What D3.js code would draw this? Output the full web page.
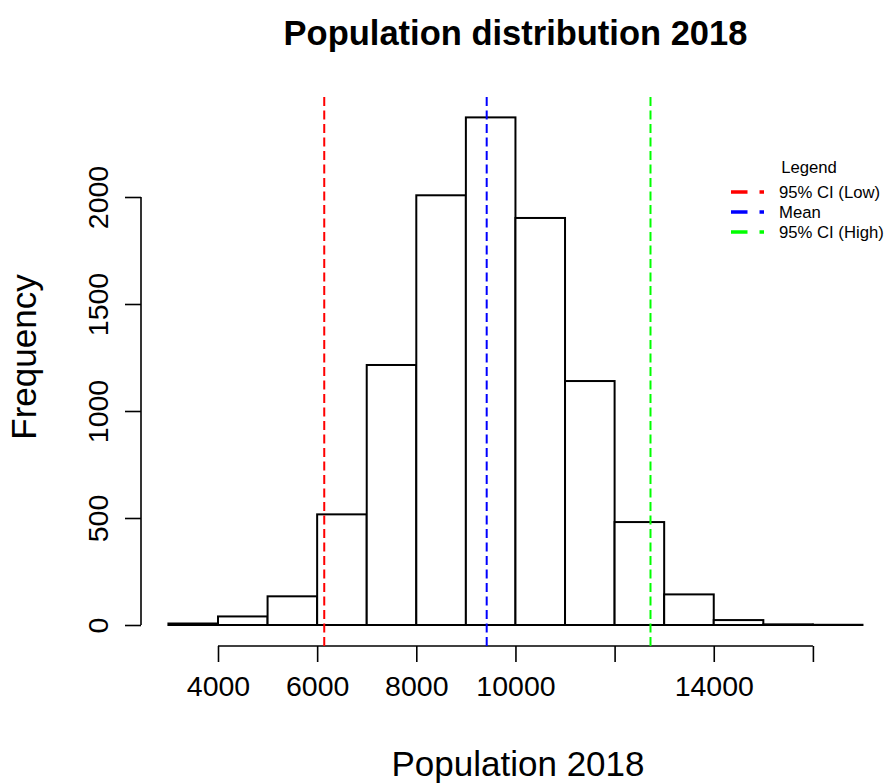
<!DOCTYPE html>
<html>
<head>
<meta charset="utf-8">
<script src="https://cdn.jsdelivr.net/npm/d3@7"></script>
<style>
  html, body { margin: 0; padding: 0; background: #fff; }
  svg { display: block; font-family: "Liberation Sans", Arial, sans-serif; }
</style>
</head>
<body>
<svg id="chart" width="886" height="783"></svg>
<script>
// ---- data ----
const binStarts = [3000, 4000, 5000, 6000, 7000, 8000, 9000, 10000, 11000, 12000, 13000, 14000, 15000, 16000];
const binWidth = 1000;
const counts = [7, 40, 134, 517, 1215, 2008, 2372, 1902, 1140, 481, 143, 23, 3, 1];
const xTicks = [4000, 6000, 8000, 10000, 12000, 14000, 16000];
const xTickLabels = ["4000", "6000", "8000", "10000", "", "14000", ""];
const yTicks = [0, 500, 1000, 1500, 2000];
const yTickLabels = ["0", "500", "1000", "1500", "2000"];
const refNames = ["95% CI (Low)", "Mean", "95% CI (High)"];
const refValues = [6143, 9420, 12724];
const refColors = ["#ff0000", "#0000ff", "#00ff00"];
const titleText = "Population distribution 2018";
const xLabel = "Population 2018";
const yLabel = "Frequency";

// ---- scales ----
const svg = d3.select("#chart");
const x = d3.scaleLinear().domain([4000, 8000]).range([218, 416.3]);
const y = d3.scaleLinear().domain([0, 2000]).range([625, 197]);
const plotTop = y(2467), plotBottom = 646;

// title
svg.append("text").attr("x", 515.5).attr("y", 45).attr("text-anchor", "middle")
  .attr("font-weight", "bold").attr("font-size", 34.5).text(titleText);

// bars
svg.append("g").selectAll("rect").data(binStarts).join("rect")
  .attr("x", d => x(d)).attr("width", d => x(d + binWidth) - x(d))
  .attr("y", (d, i) => y(counts[i])).attr("height", (d, i) => y(0) - y(counts[i]))
  .attr("fill", "#fff").attr("stroke", "#000").attr("stroke-width", 2);

// x axis
const xAxis = d3.axisBottom(x).tickValues(xTicks).tickSize(16)
  .tickFormat((d, i) => xTickLabels[i]);
const gx = svg.append("g").attr("transform", `translate(0,${plotBottom})`).call(xAxis);
gx.select(".domain").attr("stroke-width", 1.6).attr("d", `M${x(4000)},0H${x(16000)}`);
gx.selectAll(".tick line").attr("stroke-width", 1.6);
gx.selectAll(".tick text").attr("font-size", 28.5).attr("fill", "#000")
  .attr("font-family", "Liberation Sans, Arial, sans-serif").attr("dy", "1.05em").attr("y", 20);

// y axis
const yAxis = d3.axisLeft(y).tickValues(yTicks).tickSize(16)
  .tickFormat((d, i) => yTickLabels[i]);
const gy = svg.append("g").attr("transform", "translate(141,0)").call(yAxis);
gy.select(".domain").attr("stroke-width", 1.6).attr("d", `M0,${y(0)}V${y(2000)}`);
gy.selectAll(".tick line").attr("stroke-width", 1.6);
gy.selectAll(".tick text").attr("font-size", 28.5).attr("fill", "#000")
  .attr("font-family", "Liberation Sans, Arial, sans-serif")
  .attr("x", null).attr("dy", null)
  .attr("transform", "translate(-33,0) rotate(-90)")
  .attr("text-anchor", "middle");

// reference lines
svg.append("g").selectAll("line").data(refValues).join("line")
  .attr("x1", d => x(d)).attr("x2", d => x(d))
  .attr("y1", plotBottom).attr("y2", plotTop)
  .attr("stroke", (d, i) => refColors[i]).attr("stroke-width", 2)
  .attr("stroke-dasharray", "9,4.5");

// axis labels
svg.append("text").attr("x", 518).attr("y", 776).attr("text-anchor", "middle")
  .attr("font-size", 35).text(xLabel);
svg.append("text").attr("transform", "translate(36,357) rotate(-90)").attr("text-anchor", "middle")
  .attr("font-size", 35).text(yLabel);

// legend
const lg = svg.append("g");
lg.append("text").attr("x", 809).attr("y", 172.5).attr("text-anchor", "middle")
  .attr("font-size", 16.7).text("Legend");
const rows = lg.selectAll("g.row").data(refNames).join("g").attr("class", "row")
  .attr("transform", (d, i) => `translate(0,${192 + i * 20})`);
rows.append("line").attr("x1", 731).attr("x2", 764).attr("y1", 0).attr("y2", 0)
  .attr("stroke", (d, i) => refColors[i]).attr("stroke-width", 3.5)
  .attr("stroke-dasharray", "16.5,12");
rows.append("text").attr("x", 779).attr("y", 6).attr("font-size", 16.7).text(d => d);
</script>
</body>
</html>
